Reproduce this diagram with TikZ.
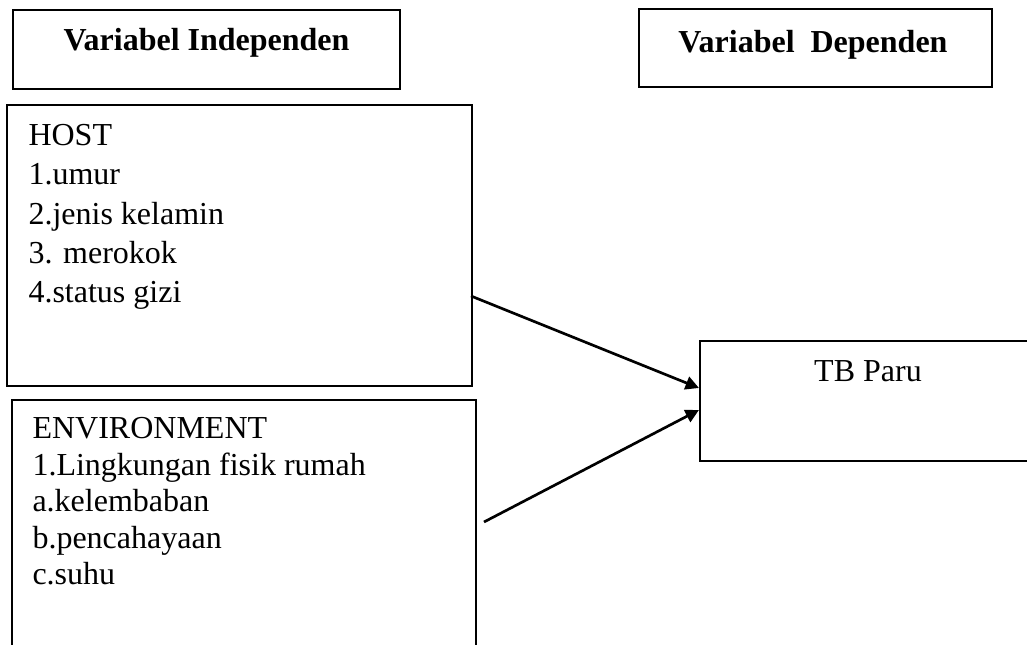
\documentclass[tikz,border=0pt]{standalone}
\usepackage{fontspec}
\setmainfont{Liberation Serif}
\usetikzlibrary{arrows.meta,fit,calc}
\begin{document}
\begin{tikzpicture}[x=0.375pt,y=-0.375pt,
  box/.style={draw, line width=0.8pt, inner sep=0pt, rectangle},
  txt/.style={anchor=base west, inner sep=0pt, font=\fontsize{12}{14}\selectfont},
  head/.style={anchor=base, inner sep=0pt, font=\fontsize{12}{14}\selectfont\bfseries},
  conn/.style={line width=1pt, -{Triangle[length=5pt,width=5pt]}}]
\useasboundingbox (0,0) rectangle (1027,645);
\clip (0,0) rectangle (1027,645);
% corners
\coordinate (i1) at (13,10);   \coordinate (i2) at (400,89);
\coordinate (d1) at (639,9);   \coordinate (d2) at (992,87);
\coordinate (h1) at (7,105);   \coordinate (h2) at (472,386);
\coordinate (e1) at (12,400);  \coordinate (e2) at (476,680);
\coordinate (t1) at (700,341); \coordinate (t2) at (1060,461);
% boxes
\node[box, fit=(i1)(i2)] (indep) {};
\node[box, fit=(d1)(d2)] (dep) {};
\node[box, fit=(h1)(h2)] (host) {};
\node[box, fit=(e1)(e2)] (env) {};
\node[box, fit=(t1)(t2)] (tb) {};
% headers
\node[head] (indeptxt) at (206.5,51) {Variabel Independen};
\node[head] (deptxt) at (813,53) {Variabel\ \ Dependen};
% host text
\node[txt] (hl0) at (28,146) {HOST};
\node[txt] (hl1) at (28,185) {1.umur};
\node[txt] (hl2) at (28,224.5) {2.jenis kelamin};
\node[txt] (hl3) at (28,264) {3. merokok};
\node[txt] (hl4) at (28,303) {4.status gizi};
% environment text
\node[txt] (el0) at (32,439) {ENVIRONMENT};
\node[txt] (el1) at (32,475.5) {1.Lingkungan fisik rumah};
\node[txt] (el2) at (32,512) {a.kelembaban};
\node[txt] (el3) at (32,548.5) {b.pencahayaan};
\node[txt] (el4) at (32,585) {c.suhu};
% TB text
\node[head, font=\fontsize{12}{14}\selectfont] (tbtxt) at (868,382) {TB Paru};
% connectors
\coordinate (hs) at (471,296);
\coordinate (es) at (484,522);
\draw[conn] (hs) -- ($(tb.west)+(0,-13)$);
\draw[conn] (es) -- ($(tb.west)+(0,9)$);
\end{tikzpicture}
\end{document}
